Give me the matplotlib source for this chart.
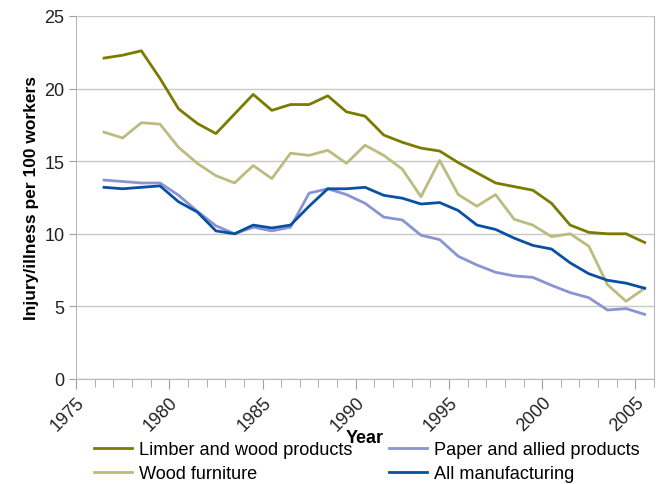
import numpy as np
import matplotlib.pyplot as plt
from matplotlib.ticker import MultipleLocator

plt.rcParams['font.family'] = ['Liberation Sans', 'DejaVu Sans']

years = np.arange(1976, 2006) + 0.5

limber = [22.1, 22.3, 22.6, 20.7, 18.6, 17.6, 16.9, 18.25, 19.6, 18.5,
          18.9, 18.9, 19.5, 18.4, 18.1, 16.8, 16.3, 15.9, 15.7, 14.9,
          14.2, 13.5, 13.25, 13.0, 12.1, 10.6, 10.1, 10.0, 10.0, 9.4]
furniture = [17.0, 16.6, 17.65, 17.55, 15.95, 14.85, 14.0, 13.5, 14.7, 13.8,
             15.55, 15.4, 15.75, 14.85, 16.1, 15.4, 14.45, 12.55, 15.05, 12.7,
             11.9, 12.7, 11.0, 10.6, 9.8, 10.0, 9.15, 6.5, 5.35, 6.25]
paper = [13.7, 13.6, 13.5, 13.5, 12.65, 11.55, 10.55, 10.0, 10.45, 10.2,
         10.45, 12.8, 13.1, 12.7, 12.1, 11.15, 10.95, 9.9, 9.6, 8.45,
         7.85, 7.35, 7.1, 7.0, 6.45, 5.95, 5.6, 4.75, 4.85, 4.45]
allmfg = [13.2, 13.1, 13.2, 13.3, 12.2, 11.5, 10.2, 10.0, 10.6, 10.4,
          10.6, 11.9, 13.1, 13.1, 13.2, 12.65, 12.45, 12.05, 12.15, 11.6,
          10.6, 10.3, 9.7, 9.2, 8.95, 8.0, 7.25, 6.8, 6.6, 6.25]

# legend order (column-wise): limber, furniture | paper, all manufacturing
names = ["Limber and wood products", "Wood furniture",
         "Paper and allied products", "All manufacturing"]
colors = ['#7b7b00', '#bcbc80', '#8a94d2', '#0a50a2']
series = [limber, furniture, paper, allmfg]

fig = plt.figure(figsize=(6.56, 4.85), dpi=100)
ax = fig.add_axes([0.116, 0.2165, 0.881, 0.7485])

handles = []
for data, col, name in zip(series, colors, names):
    h, = ax.plot(years, data, color=col, lw=2.0, label=name)
    handles.append(h)

ax.set_xlim(1975, 2006)
ax.set_ylim(0, 25)
ax.xaxis.set_major_locator(MultipleLocator(5))
ax.xaxis.set_minor_locator(MultipleLocator(1))
ax.yaxis.set_major_locator(MultipleLocator(5))
ax.grid(axis='y', color='#c8c8c8', lw=1)
ax.set_axisbelow(True)
for s in ax.spines.values():
    s.set_color('#b8b8b8')
ax.spines['top'].set_visible(False)
ax.tick_params(axis='both', which='both', color='#a0a0a0', direction='out',
               labelsize=13, labelcolor='#222222')
ax.tick_params(axis='x', which='major', length=7)
ax.tick_params(axis='x', which='minor', length=6)
ax.tick_params(axis='y', length=5)
for lbl in ax.get_xticklabels():
    lbl.set_rotation(45)
    lbl.set_ha('right')
    lbl.set_rotation_mode('anchor')

ax.set_xlabel("Year", fontsize=13, fontweight='bold', labelpad=-4)
ax.set_ylabel("Injury/illness per 100 workers", fontsize=12.5, fontweight='bold')

fig.legend(handles=handles, ncol=2, frameon=False, fontsize=13.1,
           loc='lower left', bbox_to_anchor=(0.119, -0.03),
           handlelength=2.05, columnspacing=2.05, labelspacing=0.38,
           handletextpad=0.38)

fig.savefig("out.png", dpi=100)
